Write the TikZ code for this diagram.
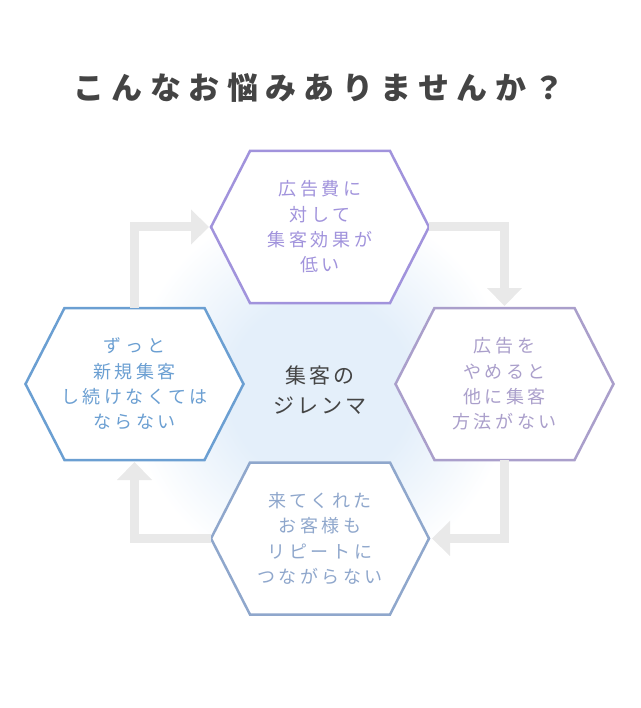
\documentclass[tikz,border=0pt]{standalone}
\usepackage{fontspec}
\newfontfamily\jpfont[LetterSpace=20]{Noto Sans CJK JP}
\newfontfamily\jpmid[LetterSpace=15]{Noto Sans CJK JP}
\newfontfamily\jphead[LetterSpace=24]{Noto Sans CJK JP}
\usetikzlibrary{arrows.meta,backgrounds}
\definecolor{hexpurple}{HTML}{A193DC}
\definecolor{hexblue}{HTML}{6B9FD2}
\definecolor{hexlilac}{HTML}{AA9FCB}
\definecolor{hexsteel}{HTML}{8FA7CC}
\definecolor{glowblue}{HTML}{E4EFFA}
\definecolor{loopgray}{HTML}{E9E9E9}
\definecolor{inkgray}{HTML}{444444}
\pgfdeclareradialshading{glow}{\pgfpoint{0bp}{0bp}}{color(0bp)=(glowblue); color(12bp)=(glowblue); color(18bp)=(glowblue!55!white); color(25bp)=(white); color(50bp)=(white)}
\tikzset{
	hexbox/.style={inner sep=0pt,outer sep=0pt,minimum width=218pt,minimum height=152pt,align=center,font=\jpfont\fontsize{18}{25.3}\selectfont},
	loop/.style={draw=loopgray,line width=9pt,-{Triangle[width=34pt,length=18pt]}}
}
\begin{document}
\begin{tikzpicture}[x=1pt,y=-1pt]
	\useasboundingbox (0,0) rectangle (640,708);
	\node[text=inkgray,font=\jphead\bfseries\fontsize{31}{31}\selectfont] (title) at (319,88) {こんなお悩みありませんか？};
	\node[hexbox,text=hexpurple] (costs) at (320,227) {広告費に\\対して\\集客効果が\\低い};
	\node[hexbox,text=hexlilac] (quit) at (504.5,384) {広告を\\やめると\\他に集客\\方法がない};
	\node[hexbox,text=hexsteel] (repeat) at (320,538.5) {来てくれた\\お客様も\\リピートに\\つながらない};
	\node[hexbox,text=hexblue] (newcust) at (134.5,384) {ずっと\\新規集客\\し続けなくては\\ならない};
	\node[text=inkgray,align=center,font=\jpmid\fontsize{21}{30}\selectfont] (dilemma) at (320,390) {集客の\\ジレンマ};
	\begin{scope}[on background layer]
		\shade[shading=glow] (dilemma) circle (190);
		\foreach \n/\c in {costs/hexpurple,quit/hexlilac,repeat/hexsteel,newcust/hexblue}
			\draw[draw=\c,fill=white,line width=2.5pt,line join=miter] (\n.west) -- ([xshift=39pt]\n.north west) -- ([xshift=-39pt]\n.north east) -- (\n.east) -- ([xshift=-39pt]\n.south east) -- ([xshift=39pt]\n.south west) -- cycle;
		\draw[loop,shorten >=2pt] (newcust.north) |- (costs.west);
		\draw[loop,shorten >=2pt] (costs.east) -| (quit.north);
		\draw[loop,shorten >=3pt] (quit.south) |- (repeat.east);
		\draw[loop,shorten >=2pt] (repeat.west) -| (newcust.south);
	\end{scope}
\end{tikzpicture}
\end{document}
